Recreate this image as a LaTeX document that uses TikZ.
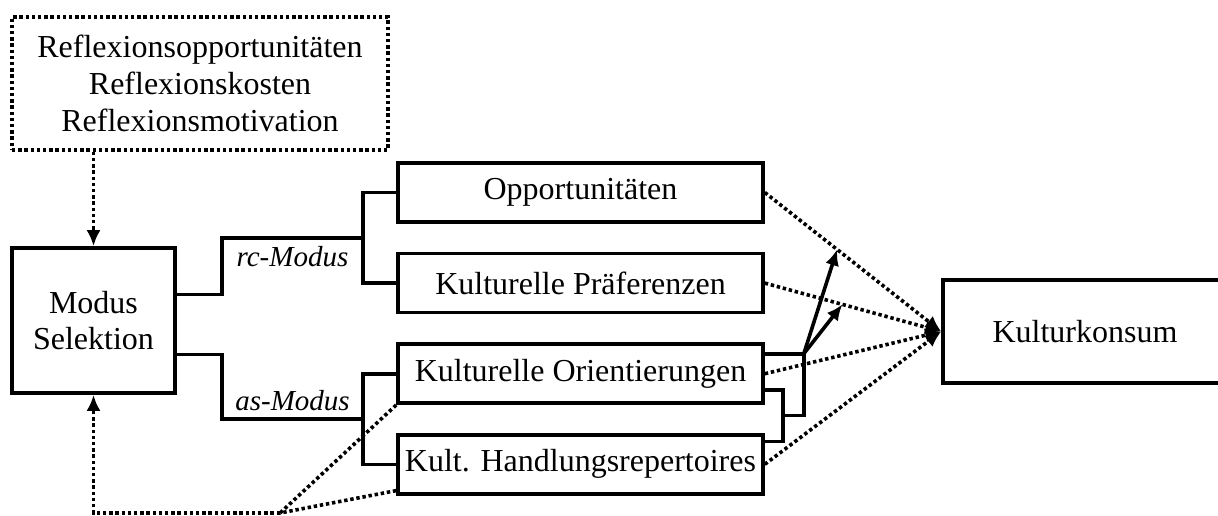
\documentclass[tikz,border=0pt]{standalone}
\usepackage{fontspec}
\setmainfont{Liberation Serif}
\usetikzlibrary{arrows.meta,positioning,calc}

\begin{document}
\begin{tikzpicture}[x=0.5pt, y=-0.5pt, line width=1.8pt,
    every node/.style={font=\fontsize{16}{18.4}\selectfont},
    box/.style={draw, inner sep=0pt, align=center},
    outbox/.style={box, minimum width=182.5pt, minimum height=29.5pt},
    dotline/.style={dash pattern=on 1.7pt off 1.4pt},
    dotbox/.style={box, dotline},
    tip/.style={-{Latex[length=8pt, width=7pt]}},
    modlabel/.style={font=\fontsize{14.5}{16}\selectfont\itshape}]
    \useasboundingbox (0,0) rectangle (1218,515);

    % reflection conditions and mode selection
    \node[dotbox, minimum width=188pt, minimum height=66.5pt] (refl) at (200,83.5)
        {Reflexionsopportunitäten\\Reflexionskosten\\Reflexionsmotivation};
    \node[box, minimum width=81.5pt, minimum height=72.5pt] (modus) at (93.5,320.5) {Modus\\Selektion};

    % determinants
    \node[outbox] (opp) at (580.5,192.5) {Opportunitäten};
    \node[outbox, below=14pt of opp] (praef) {Kulturelle Präferenzen};
    \node[outbox, below=14pt of praef] (orient) {Kulturelle Orientierungen};
    \node[outbox, below=14pt of orient] (hand) {Kult. Handlungsrepertoires};

    % outcome
    \node[box, minimum width=142pt, minimum height=51.5pt] (kk) at (1085,331.5) {Kulturkonsum};

    % rc-Modus
    \coordinate (rcfork) at ($(opp.west)!0.5!(praef.west)+(-33,0)$);
    \draw (opp.west) -- ++(-33,0) |- (praef.west);
    \draw ([yshift=13pt]modus.east) -- ++(45,0) |- (rcfork) node[modlabel, pos=0.75, below] {rc-Modus};

    % as-Modus
    \coordinate (asfork) at ($(orient.west)!0.5!(hand.west)+(-33,0)$);
    \draw (orient.west) -- ++(-33,0) |- (hand.west);
    \draw ([yshift=-17pt]modus.east) -- ++(45,0) |- (asfork) node[modlabel, pos=0.75, above] {as-Modus};

    % moderation
    \draw ([yshift=-8pt]orient.east) -- ++(18,0) |- ([yshift=11.5pt]hand.east);
    \coordinate (mfork) at ($([yshift=-8pt]orient.east)!0.5!([yshift=11.5pt]hand.east)+(18,0)$);
    \draw ([yshift=10pt]orient.east) -- ++(39,0) coordinate (mod) |- (mfork);

    % effects on outcome
    \foreach \n in {opp, praef, orient, hand}
        \draw[dotline, tip] (\n.east) -- (kk.west);
    \draw[tip] (mod) -- ($(opp.east)!0.41!(kk.west)$);
    \draw[tip] (mod) -- ($(praef.east)!0.44!(kk.west)$);

    % feedback
    \draw[dotline, tip] (refl.south -| modus.north) -- (modus.north);
    \coordinate (fb) at (280,513);
    \draw[dotline] (orient.south west) -- (fb);
    \draw[dotline] ([yshift=2.5pt]hand.south west) -- (fb);
    \draw[dotline, tip] (fb) -| (modus.south);
\end{tikzpicture}
\end{document}
